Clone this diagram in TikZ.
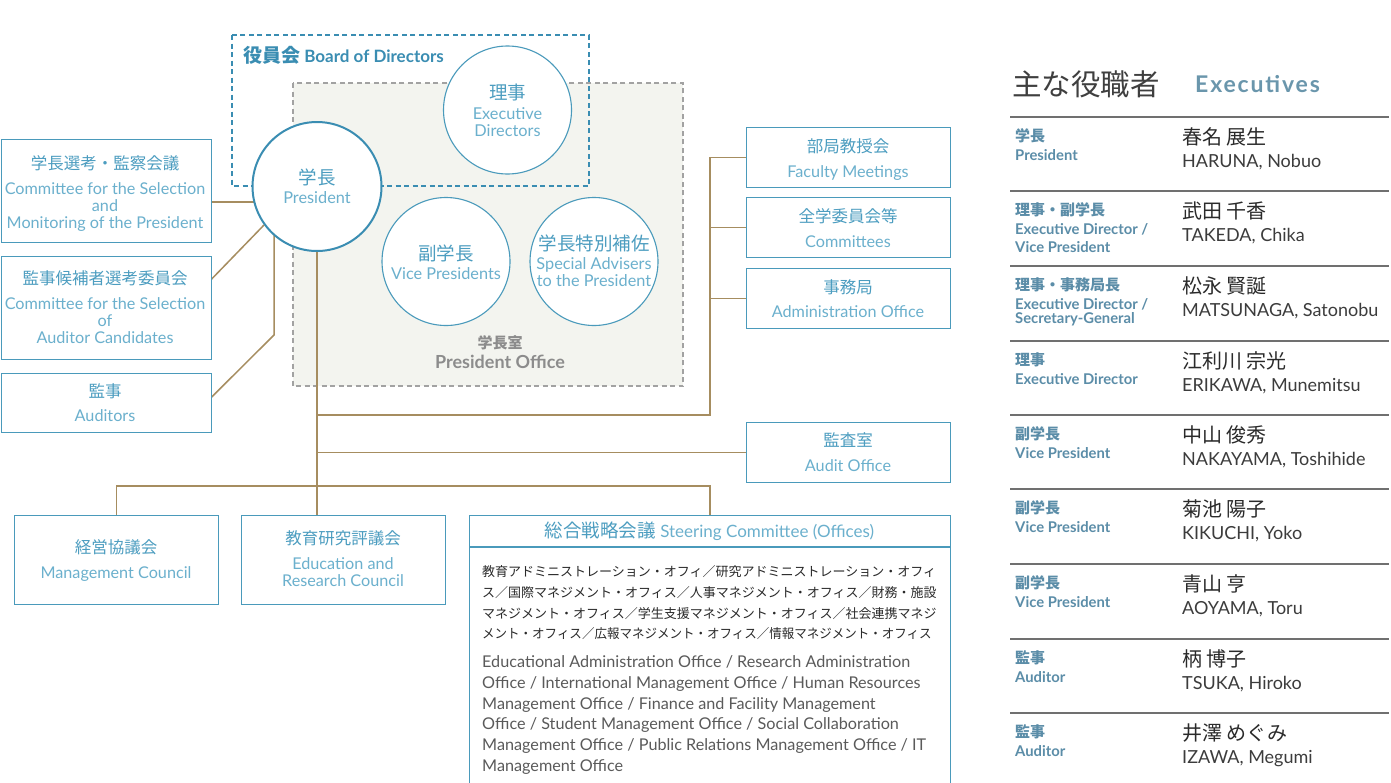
\documentclass[tikz,border=0pt]{standalone}
\usepackage{fontspec}
\usepackage{graphicx}
\setmainfont{Lato}
\newfontfamily\jp{Noto Sans CJK JP}
\pgfdeclarelayer{back}
\pgfdeclarelayer{links}
\pgfsetlayers{back,links,main}
\definecolor{bblue}{HTML}{4A9ABB}
\definecolor{dblue}{HTML}{3A8DB2}
\definecolor{jblue}{HTML}{4C9DC0}
\definecolor{eblue}{HTML}{6BB0CD}
\definecolor{linkc}{HTML}{A68D60}
\definecolor{offfill}{HTML}{F3F4EF}
\definecolor{offgray}{HTML}{A2A2A2}
\definecolor{offtext}{HTML}{8C8C8C}
\definecolor{rolec}{HTML}{5B8DA8}
\definecolor{titc}{HTML}{6A96AC}
\definecolor{namec}{HTML}{2A2A2A}
\definecolor{romc}{HTML}{3C3C3C}
\definecolor{bodyc}{HTML}{5A5A5A}
\definecolor{rulec}{HTML}{707070}
\tikzset{
 box/.style={draw=bblue,line width=1.1pt,fill=white,inner sep=0,anchor=north west},
 circ/.style={circle,draw=bblue,line width=1.1pt,fill=white,inner sep=0,minimum size=128pt},
 lnk/.style={draw=linkc,line width=1.5pt},
 tj/.style={font=\jp\fontsize{16.5}{18}\selectfont,text=jblue,inner sep=0,anchor=base},
 te/.style={font=\fontsize{16.2}{18}\selectfont,text=eblue,inner sep=0,anchor=base},
 cj/.style={font=\jp\fontsize{18.5}{20}\selectfont,text=jblue,inner sep=0,anchor=base},
 ce/.style={font=\fontsize{16.3}{18}\selectfont,text=eblue,inner sep=0,anchor=base},
 bj/.style={font=\jp\fontsize{13}{15}\selectfont,text=namec,inner sep=0,anchor=base west},
 be/.style={font=\fontsize{16.2}{18}\selectfont,text=bodyc,inner sep=0,anchor=base west},
 rj/.style={font=\jp\bfseries\fontsize{15}{17}\selectfont,text=rolec,inner sep=0,anchor=base west},
 re/.style={font=\bfseries\fontsize{14.8}{16}\selectfont,text=rolec,inner sep=0,anchor=base west},
 nj/.style={font=\jp\fontsize{20}{22}\selectfont,text=namec,inner sep=0,anchor=base west},
 ne/.style={font=\fontsize{18}{20}\selectfont,text=romc,inner sep=0,anchor=base west},
}
\begin{document}
\begin{tikzpicture}[x=1pt,y=-1pt]
\useasboundingbox (0,0) rectangle (1391,782);
\clip (0,0) rectangle (1391,782);
% groups
\begin{pgfonlayer}{back}
\fill[white] (0,0) rectangle (1391,782);
\draw[offgray,fill=offfill,line width=1.6pt,dash pattern=on 5pt off 3.5pt] (293,83) rectangle (683,386);
\draw[dblue,line width=1.6pt,dash pattern=on 5pt off 3.5pt] (232,35) rectangle (589,186);
\end{pgfonlayer}
\node[font=\bfseries\fontsize{17}{19}\selectfont,text=dblue,inner sep=0,anchor=base west] (board) at (243,62) {{\jp\fontsize{19}{21}\selectfont 役員会} Board of Directors};
\node[font=\jp\bfseries\fontsize{15}{17}\selectfont,text=offtext,inner sep=0,anchor=base] (offj) at (500,348.7) {学長室};
\node[font=\bfseries\fontsize{18}{20}\selectfont,text=offtext,inner sep=0,anchor=base] (offe) at (500,368.3) {President Office};
% circles
\node[circ,draw=dblue,line width=2pt,minimum size=129pt] (pres) at (317,186.5) {};
\node[circ] (exe) at (507.5,110) {};
\node[circ] (vp) at (446,261.5) {};
\node[circ] (sa) at (594,261.5) {};
\node[cj] (presj) at (317,184) {学長};
\node[ce] (prese) at (317,203.8) {President};
\node[cj] (exej) at (507.5,99) {理事};
\node[ce] (exee1) at (507.5,119.8) {Executive};
\node[ce] (exee2) at (507.5,136.8) {Directors};
\node[cj] (vpj) at (446,260) {副学長};
\node[ce] (vpe) at (446,279.8) {Vice Presidents};
\node[cj] (saj) at (594,250) {学長特別補佐};
\node[ce] (sae1) at (594,269.8) {Special Advisers};
\node[ce] (sae2) at (594,286.8) {to the President};
% boxes
\node[box,minimum width=210pt,minimum height=103pt] (b1) at (0.6,139) {};
\node[box,minimum width=210pt,minimum height=103pt] (b2) at (0.6,256) {};
\node[box,minimum width=210pt,minimum height=59pt] (b3) at (0.6,373) {};
\node[box,minimum width=204pt,minimum height=60pt] (fac) at (746,127) {};
\node[box,minimum width=204pt,minimum height=60pt] (com) at (746,197) {};
\node[box,minimum width=204pt,minimum height=60pt] (adm) at (746,268) {};
\node[box,minimum width=204pt,minimum height=60pt] (aud) at (746,422) {};
\node[box,minimum width=204pt,minimum height=89pt] (mgmt) at (14,515) {};
\node[box,minimum width=204pt,minimum height=89pt] (edu) at (241,515) {};
\node[box,minimum width=481pt,minimum height=285pt] (steer) at (469,515) {};
\coordinate (hd) at (0,547);
\draw[bblue,line width=1.1pt] (steer.west |- hd) -- (steer.east |- hd);
% box texts
\node[tj] (l1j) at (105,169.3) {学長選考・監察会議};
\node[te] (l1a) at (105,194.8) {Committee for the Selection};
\node[te] (l1b) at (105,211.8) {and};
\node[te] (l1c) at (105,228.8) {Monitoring of the President};
\node[tj] (l2j) at (105,284.3) {監事候補者選考委員会};
\node[te] (l2a) at (105,309.8) {Committee for the Selection};
\node[te] (l2b) at (105,326.8) {of};
\node[te] (l2c) at (105,343.8) {Auditor Candidates};
\node[tj] (l3j) at (105,397.3) {監事};
\node[te] (l3e) at (105,421.8) {Auditors};
\node[tj] (facj) at (848,152.3) {部局教授会};
\node[te] (face) at (848,177.8) {Faculty Meetings};
\node[tj] (comj) at (848,222.3) {全学委員会等};
\node[te] (come) at (848,247.8) {Committees};
\node[tj] (admj) at (848,293.3) {事務局};
\node[te] (adme) at (848,317.8) {Administration Office};
\node[tj] (audj) at (848,446.3) {監査室};
\node[te] (aude) at (848,471.8) {Audit Office};
\node[tj] (mgj) at (116,553.3) {経営協議会};
\node[te] (mge) at (116,578.8) {Management Council};
\node[tj] (edj) at (343,544.3) {教育研究評議会};
\node[te] (ede1) at (343,569.8) {Education and};
\node[te] (ede2) at (343,586.8) {Research Council};
\node[font=\fontsize{17}{19}\selectfont,text=eblue,inner sep=0,anchor=base] (sth) at (709.5,537.8) {{\jp\fontsize{18.5}{20}\selectfont\color{jblue}総合戦略会議} Steering Committee (Offices)};
\node[bj] (sj1) at (482,576) {教育アドミニストレーション・オフィ／研究アドミニストレーション・オフィ};
\node[bj] (sj2) at (482,597) {ス／国際マネジメント・オフィス／人事マネジメント・オフィス／財務・施設};
\node[bj] (sj3) at (482,618) {マネジメント・オフィス／学生支援マネジメント・オフィス／社会連携マネジ};
\node[bj] (sj4) at (482,638) {\scalebox{0.962}[1]{メント・オフィス／広報マネジメント・オフィス／情報マネジメント・オフィス}};
\node[be] (se1) at (482,667.8) {Educational Administration Office / Research Administration};
\node[be] (se2) at (482,688.8) {Office / International Management Office / Human Resources};
\node[be] (se3) at (482,709.8) {Management Office / Finance and Facility Management};
\node[be] (se4) at (482,729.8) {Office / Student Management Office / Social Collaboration};
\node[be] (se5) at (482,750.8) {Management Office / Public Relations Management Office / IT};
\node[be] (se6) at (482,771.8) {Management Office};
% connectors
\begin{pgfonlayer}{links}
\coordinate (p202) at (0,202);
\draw[lnk] (b1.east |- p202) -- (pres.center |- p202);
\coordinate (k2) at (0,279);
\draw[lnk] (b2.east |- k2) -- (pres.216.5);
\coordinate (k3a) at (0,397);
\coordinate (k3) at (274,335);
\draw[lnk] (b3.east |- k3a) -- (k3) -- (k3 |- pres.center);
\coordinate (rv) at (710,415);
\draw[lnk] (pres.center) -- (pres.center |- edu.north);
\draw[lnk] (pres.center |- rv) -- (rv) -- (rv |- fac.west) -- (fac.west);
\draw[lnk] (rv |- com.west) -- (com.west);
\draw[lnk] (rv |- adm.west) -- (adm.west);
\draw[lnk] (pres.center |- aud.west) -- (aud.west);
\coordinate (bus) at (0,486);
\draw[lnk] (mgmt.north) -- (mgmt.north |- bus) -- (steer.north |- bus) -- (steer.north);
\end{pgfonlayer}
% executives
\node[font=\jp\fontsize{29.5}{31}\selectfont,text=namec!90,inner sep=0,anchor=base west] (extj) at (1012,95) {主な役職者};
\node[font=\bfseries\fontsize{23}{25}\selectfont\addfontfeatures{LetterSpace=8},text=titc,inner sep=0,anchor=base west] (exte) at (1195,92.3) {Executives};
\foreach \yy in {117,191,266,341,415,489,564,639,713}
  \draw[rulec,line width=1.5pt] (1010,\yy) -- (1389,\yy);
\foreach \T/\rj/\re/\nj/\ne/\k in {117/学長/President/{春名 展生}/{HARUNA, Nobuo}/1,
  341/理事/Executive Director/{江利川 宗光}/{ERIKAWA, Munemitsu}/4,
  415/副学長/Vice President/{中山 俊秀}/{NAKAYAMA, Toshihide}/5,
  489/副学長/Vice President/{菊池 陽子}/{KIKUCHI, Yoko}/6,
  564/副学長/Vice President/{青山 亨}/{AOYAMA, Toru}/7,
  639/監事/Auditor/{柄 博子}/{TSUKA, Hiroko}/8,
  713/監事/Auditor/{井澤 めぐみ}/{IZAWA, Megumi}/9}{
  \node[rj] (rj\k) at (1015,\T+24) {\rj};
  \node[re] (re\k) at (1015,\T+43.3) {\re};
  \node[nj] (nj\k) at (1182,\T+27.4) {\nj};
  \node[ne] (ne\k) at (1182,\T+50.3) {\ne};
}
\node[rj] (rj2) at (1015,215) {理事・副学長};
\node[re] (re2a) at (1015,234.3) {Executive Director /};
\node[re] (re2b) at (1015,252.3) {Vice President};
\node[nj] (nj2) at (1182,218.4) {武田 千香};
\node[ne] (ne2) at (1182,241.3) {TAKEDA, Chika};
\node[rj] (rj3) at (1015,290) {理事・事務局長};
\node[re] (re3a) at (1015,309.3) {Executive Director /};
\node[re] (re3b) at (1015,323.3) {Secretary-General};
\node[nj] (nj3) at (1182,293.4) {松永 賢誕};
\node[ne] (ne3) at (1182,316.3) {MATSUNAGA, Satonobu};
\end{tikzpicture}
\end{document}
